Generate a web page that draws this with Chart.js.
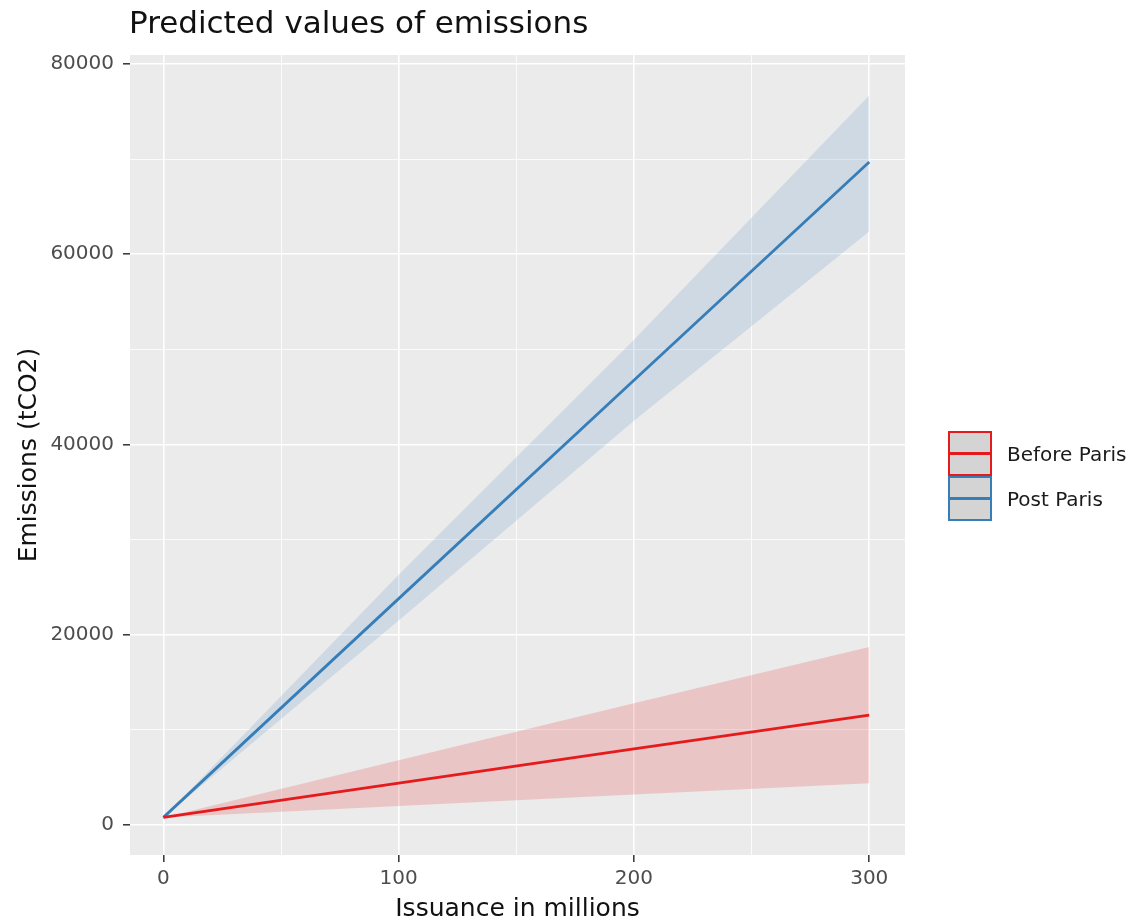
<!DOCTYPE html>
<html>
<head>
<meta charset="utf-8">
<script src="https://cdn.jsdelivr.net/npm/chart.js@4"></script>
<style>
  body { margin: 0; background: #fff; }
  #wrap { position: relative; width: 1136px; height: 920px; font-family: "DejaVu Sans", sans-serif; }
  #titulo { position: absolute; left: 129px; top: 4px; font-size: 31px; color: #111; }
  .leg { position: absolute; left: 948px; width: 40px; height: 41px; border: 2px solid; background: #d4d4d4; }
  .leg i { position: absolute; left: 0; right: 0; top: 19px; height: 3px; }
  .legtxt { position: absolute; left: 1007px; font-size: 20px; color: #1a1a1a; }
</style>
</head>
<body>
<div id="wrap">
  <canvas id="grafico" width="1136" height="920"></canvas>
  <div id="titulo">Predicted values of emissions</div>
  <div class="leg" style="top:431px;border-color:#e41a1c"><i style="background:#e41a1c"></i></div>
  <div class="legtxt" style="top:442px">Before Paris</div>
  <div class="leg" style="top:476px;border-color:#377eb8"><i style="background:#377eb8"></i></div>
  <div class="legtxt" style="top:487px">Post Paris</div>
</div>
<script>
// valores
const issuance = [0, 100, 200, 300];
const antesPred = [800, 4400, 8000, 11550];
const antesAlto = [800, 6800, 12800, 18700];
const antesBaixo = [800, 2000, 3200, 4400];
const posPred = [800, 23800, 46750, 69700];
const posAlto = [800, 26300, 51000, 76700];
const posBaixo = [800, 21500, 42500, 62400];

const xTicks = [0, 50, 100, 150, 200, 250, 300];
const yTicks = [0, 10000, 20000, 30000, 40000, 50000, 60000, 70000, 80000];

const vermelho = "#e41a1c";
const azul = "#377eb8";
const fonte = "'DejaVu Sans', sans-serif";

function pts(ys) {
  return issuance.map((x, i) => ({ x, y: ys[i] }));
}

const fundo = {
  id: "fundo",
  beforeDraw(chart) {
    const a = chart.chartArea;
    chart.ctx.save();
    chart.ctx.fillStyle = "#ebebeb";
    chart.ctx.fillRect(a.left, a.top, a.right - a.left, a.bottom - a.top);
    chart.ctx.restore();
  }
};

function grade(major) {
  return {
    color: "#ffffff",
    lineWidth: c => (c.tick && c.tick.value % major === 0) ? 1.6 : 0.8,
    tickColor: c => (c.tick && c.tick.value % major === 0) ? "#333333" : "rgba(0,0,0,0)",
    tickWidth: 1.5,
    tickLength: 7
  };
}

const banda = (ys, cor, alvo) => ({
  data: pts(ys), borderWidth: 0, pointRadius: 0, backgroundColor: cor, fill: alvo
});

new Chart(document.getElementById("grafico"), {
  type: "line",
  data: {
    datasets: [
      { data: pts(antesPred), borderColor: vermelho, borderWidth: 2.8, pointRadius: 0, fill: false },
      { data: pts(posPred), borderColor: azul, borderWidth: 2.8, pointRadius: 0, fill: false },
      banda(antesAlto, "rgba(228,26,28,0.18)", 3),
      { data: pts(antesBaixo), borderWidth: 0, pointRadius: 0, fill: false },
      banda(posAlto, "rgba(55,126,184,0.16)", 5),
      { data: pts(posBaixo), borderWidth: 0, pointRadius: 0, fill: false }
    ]
  },
  options: {
    responsive: false,
    animation: false,
    devicePixelRatio: 1,
    layout: { padding: { top: 55, right: 231, bottom: 0, left: 0 } },
    plugins: { legend: { display: false }, tooltip: { enabled: false } },
    scales: {
      x: {
        type: "linear",
        min: -14.2,
        max: 315.2,
        afterBuildTicks: s => { s.ticks = xTicks.map(v => ({ value: v })); },
        afterFit: s => { s.height = 65; },
        grid: grade(100),
        border: { display: false },
        ticks: {
          padding: 5,
          color: "#4d4d4d",
          font: { family: fonte, size: 20 },
          callback: v => v % 100 === 0 ? String(v) : ""
        },
        title: {
          display: true,
          text: "Issuance in millions",
          color: "#111",
          font: { family: fonte, size: 25 },
          padding: { top: 0, bottom: -4 }
        }
      },
      y: {
        min: -3154,
        max: 80946,
        afterBuildTicks: s => { s.ticks = yTicks.map(v => ({ value: v })); },
        afterFit: s => { s.width = 130; },
        grid: grade(20000),
        border: { display: false },
        ticks: {
          padding: 9,
          color: "#4d4d4d",
          font: { family: fonte, size: 20 },
          callback: v => v % 20000 === 0 ? String(v) : ""
        },
        title: {
          display: true,
          text: "Emissions (tCO2)",
          color: "#111",
          font: { family: fonte, size: 25 },
          padding: { top: 14, bottom: 0 }
        }
      }
    }
  },
  plugins: [fundo]
});
</script>
</body>
</html>
